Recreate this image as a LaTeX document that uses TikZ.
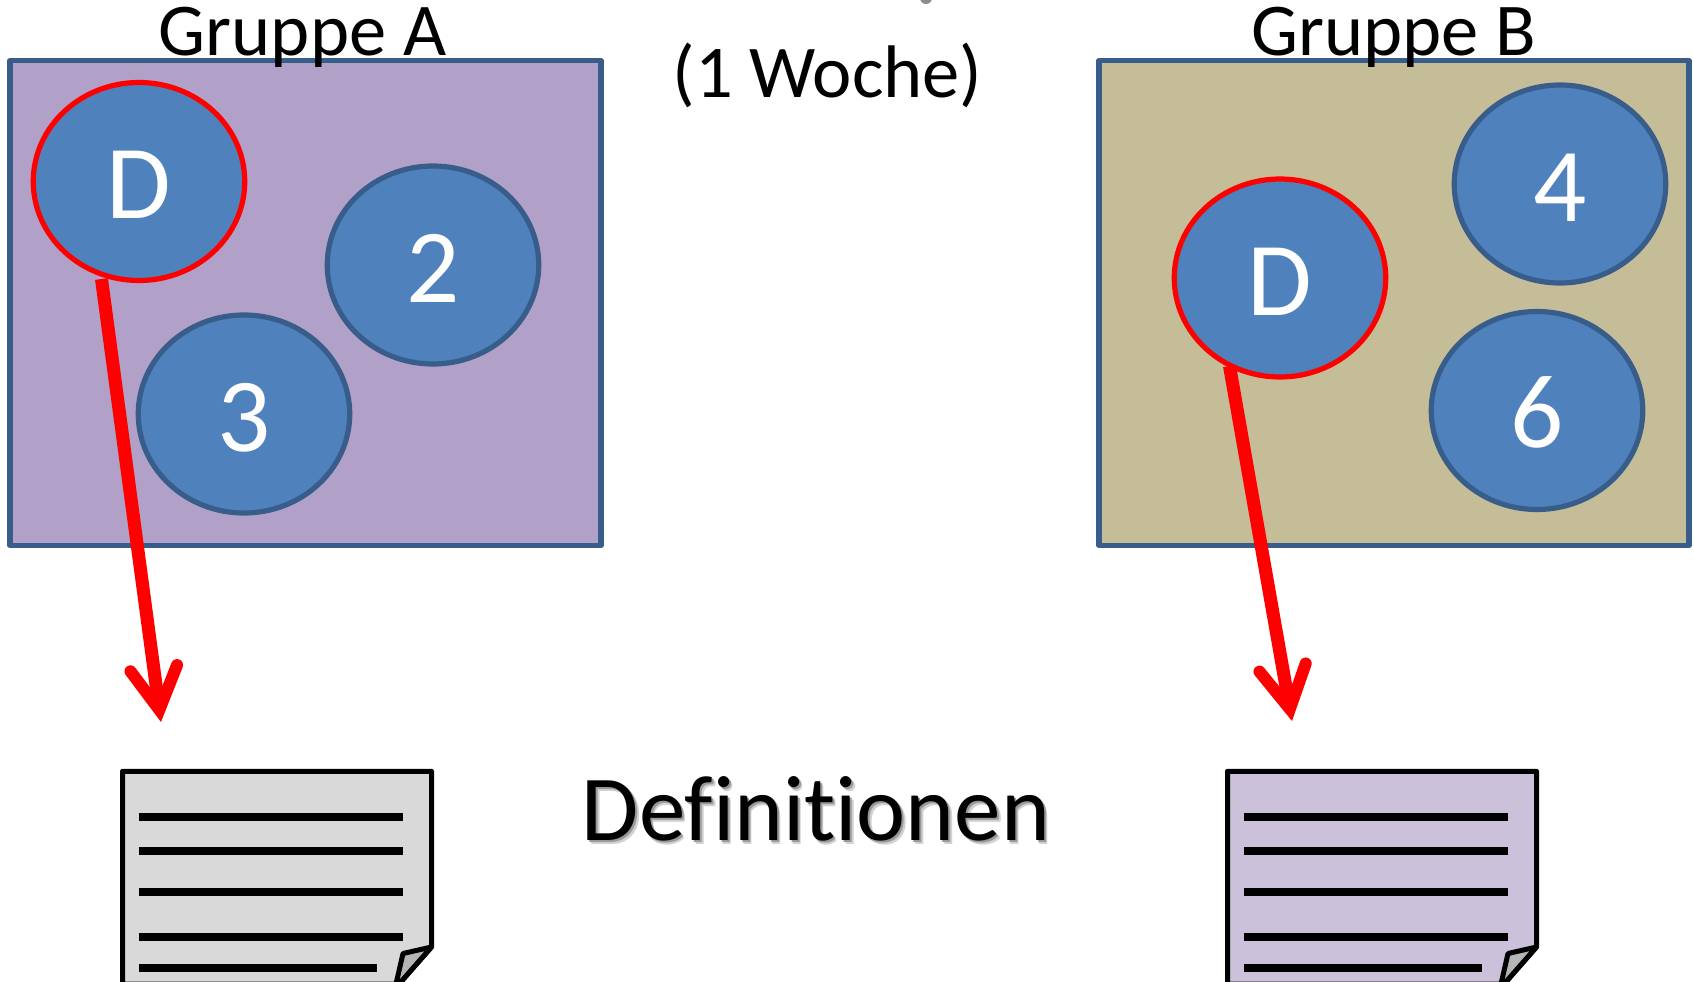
\documentclass[tikz,border=0pt]{standalone}
\usepackage{fontspec}
\setmainfont[Ligatures={NoCommon}]{Carlito}
\usetikzlibrary{shapes.geometric,arrows.meta}
\definecolor{edgeblue}{HTML}{385D8A}
\definecolor{discblue}{HTML}{4F81BD}
\definecolor{groupa}{HTML}{B1A0C7}
\definecolor{groupb}{HTML}{C4BD97}
\definecolor{docgrey}{HTML}{D9D9D9}
\definecolor{docviolet}{HTML}{CCC1DA}
\definecolor{foldgrey}{HTML}{B5B5B5}
\tikzset{
  groupbox/.style={draw=edgeblue,line width=5.2pt,line join=round,inner sep=0pt,outer sep=0pt,anchor=north west},
  disc/.style={ellipse,draw=edgeblue,fill=discblue,line width=5.2pt,minimum width=211.5pt,minimum height=198pt,inner sep=0pt,
    text=white,font=\fontsize{105}{110}\selectfont,text height=74pt,text depth=0pt},
  reddisc/.style={disc,draw=red},
  heading/.style={font=\fontsize{74.5}{80}\selectfont,anchor=base,inner sep=0pt},
  bigtext/.style={font=\fontsize{93}{100}\selectfont,anchor=base,inner sep=0pt},
  redarrow/.style={draw=red,line width=13pt,-{Straight Barb[length=42pt,width=47pt,line cap=round,line join=miter,line width=12pt]}},
  docedge/.style={draw=black,line width=5pt,line join=round},
  docline/.style={draw=black,line width=8pt},
}
\newcommand{\docsheet}[2]{%
  \begin{scope}[xshift=#1pt]
    \path[docedge,fill=#2] (122.5,771.3) -- (431.5,771.3) -- (431.5,947) -- (399,984) -- (122.5,984) -- cycle;
    \path[docedge,fill=foldgrey] (431.5,947) -- (403,953.5) -- (396,984) -- (399,984) -- cycle;
    \foreach \yy/\xx in {816.7/403,851/403,892/403,937/403,967.7/376.7}
      \path[docline] (138.7,\yy) -- (\xx,\yy);
  \end{scope}}
\begin{document}
\begin{tikzpicture}[x=1pt,y=-1pt]
  \useasboundingbox (0,0) rectangle (1694,982);
  \clip (0,0) rectangle (1694,982);
  \fill[white] (0,0) rectangle (1694,982);
  \fill[black!45] (926,-2) ellipse (6 and 6);
  \node[groupbox,fill=groupa,minimum width=591pt,minimum height=485pt] (boxa) at (10,60.5) {};
  \node[groupbox,fill=groupb,minimum width=590pt,minimum height=485pt] (boxb) at (1099,60.5) {};
  \node[reddisc] (da) at (139,181.5) {D};
  \node[disc] (two) at (433,265) {2};
  \node[disc] (three) at (244,414) {3};
  \node[reddisc] (db) at (1280,278) {D};
  \node[disc] (four) at (1560,184) {4};
  \node[disc] (six) at (1537,410.5) {6};
  \node[heading] (ga) at (302.5,55.5) {Gruppe A};
  \node[heading] (gb) at (1394,55.5) {Gruppe B};
  \node[heading] (woche) at (827.5,97) {(1 Woche)};
  \coordinate (tipa) at (161,722);
  \coordinate (tipb) at (1292,721);
  \coordinate (starta) at (101.5,279);
  \coordinate (startb) at (1229.5,366);
  \draw[redarrow] (starta) -- (tipa);
  \draw[redarrow] (startb) -- (tipb);
  \docsheet{0}{docgrey}
  \docsheet{1105}{docviolet}
  \node[bigtext,text=black!18] (defshadowa) at (819.5,844.2) {Definitionen};
  \node[bigtext,text=black!40] (defshadowb) at (818,842.7) {Definitionen};
  \node[bigtext] (defs) at (816,840.7) {Definitionen};
\end{tikzpicture}
\end{document}
